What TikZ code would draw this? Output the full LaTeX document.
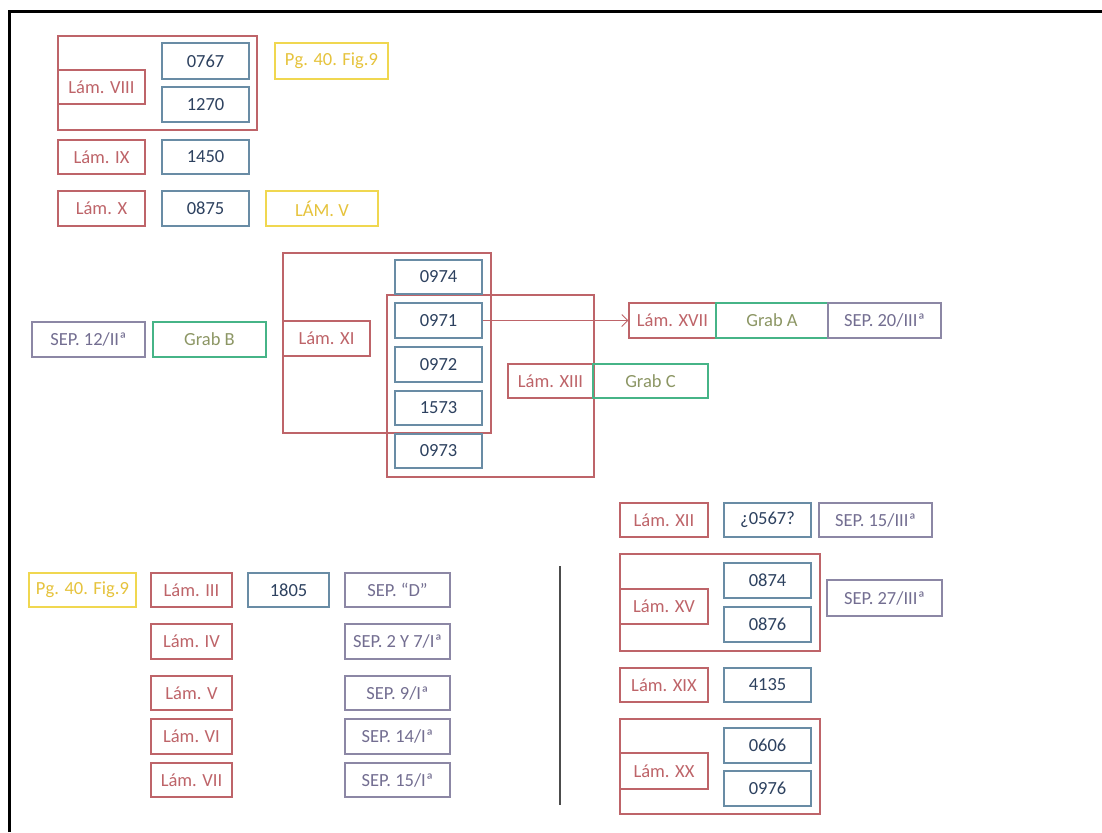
\documentclass[tikz,border=0pt]{standalone}
\usepackage{fontspec}
\setmainfont{Carlito}
\usetikzlibrary{arrows.meta}
\definecolor{lamc}{RGB}{190,100,105}
\definecolor{lamt}{RGB}{190,100,105}
\definecolor{numc}{RGB}{105,140,165}
\definecolor{numt}{RGB}{45,65,95}
\definecolor{yelc}{RGB}{240,215,80}
\definecolor{yelt}{RGB}{230,195,60}
\definecolor{grbc}{RGB}{70,180,135}
\definecolor{grbt}{RGB}{140,150,100}
\definecolor{sepc}{RGB}{140,135,165}
\definecolor{sept}{RGB}{115,110,145}
\tikzset{
  base/.style={draw, line width=1.1pt, inner sep=0pt, font=\fontsize{18.5}{20}\selectfont},
  lam/.style={base, draw=lamc, text=lamt},
  num/.style={base, draw=numc, text=numt},
  yel/.style={base, draw=yelc, text=yelt},
  grb/.style={base, draw=grbc, text=grbt},
  sep/.style={base, draw=sepc, text=sept},
  grp/.style={draw=lamc, line width=1.1pt},
  frame/.style={draw=black, line width=3pt},
  divider/.style={draw=black!70, line width=1.5pt},
  link/.style={draw=lamc, line width=1pt, -{Straight Barb[length=6pt,width=12pt,line width=1pt]}}
}
\newcommand\bx[7]{\node[#6, minimum width={(#4-#2)*1pt}, minimum height={(#5-#3)*1pt}] (#1) at ({(#2+#4)/2},{(#3+#5)/2}) {#7};}
\newcommand\grpbox[5]{\draw[grp] (#2,#3) rectangle (#4,#5) coordinate (#1);}
\begin{document}
\begin{tikzpicture}[x=1pt,y=-1pt]
\useasboundingbox (0,0) rectangle (1102,832);
\fill[white] (0,0) rectangle (1102,832);
% frame
\coordinate (fa) at (9,832);
\coordinate (fb) at (9,12);
\coordinate (fc) at (1102,12);
\draw[frame] (fa) -- (fb) -- (fc);
% groups
\grpbox{g8}{58}{36}{257}{130}
\grpbox{g11}{283}{253}{491}{433}
\grpbox{g13}{387}{295}{594}{477}
\grpbox{g15}{620}{554}{820}{651}
\grpbox{g20}{620}{719}{820}{814}
% top left
\bx{l8}{58}{70}{145}{104}{lam}{Lám. VIII}
\bx{n0767}{162}{43}{249}{79}{num}{0767}
\bx{n1270}{162}{87}{249}{122}{num}{1270}
\bx{pg1}{275}{43}{388}{79}{yel}{Pg. 40. Fig.9}
\bx{l9}{58}{140}{145}{174}{lam}{Lám. IX}
\bx{n1450}{162}{140}{249}{174}{num}{1450}
\bx{l10}{58}{191}{145}{226}{lam}{Lám. X}
\bx{n0875}{162}{191}{249}{226}{num}{0875}
\bx{lamv}{266}{191}{378}{226}{yel}{LÁM. V}
% middle
\bx{s12}{32}{322}{145}{357}{sep}{SEP. 12/IIª}
\bx{gb}{153}{322}{266}{357}{grb}{Grab B}
\bx{l11}{283}{321}{370}{356}{lam}{Lám. XI}
\bx{n0974}{395}{260}{482}{294}{num}{0974}
\bx{n0971}{395}{303}{482}{338}{num}{0971}
\bx{n0972}{395}{347}{482}{382}{num}{0972}
\bx{n1573}{395}{391}{482}{425}{num}{1573}
\bx{n0973}{395}{434}{482}{468}{num}{0973}
\bx{l13}{508}{364}{593}{398}{lam}{Lám. XIII}
\bx{gc}{593}{364}{708}{398}{grb}{Grab C}
\bx{l17}{629}{303}{716}{338}{lam}{Lám. XVII}
\bx{ga}{716}{303}{828}{338}{grb}{Grab A}
\bx{s20}{828}{303}{941}{338}{sep}{SEP. 20/IIIª}
\draw[link] (n0971.east) -- (l17.west);
% bottom left
\bx{pg2}{29}{573}{136}{607}{yel}{Pg. 40. Fig.9}
\bx{l3}{151}{573}{232}{607}{lam}{Lám. III}
\bx{n1805}{248}{573}{329}{607}{num}{1805}
\bx{sd}{345}{573}{450}{607}{sep}{SEP. “D”}
\bx{l4}{151}{624}{232}{659}{lam}{Lám. IV}
\bx{s27}{345}{624}{450}{659}{sep}{SEP. 2 Y 7/Iª}
\bx{l5}{151}{676}{232}{710}{lam}{Lám. V}
\bx{s9}{345}{676}{450}{710}{sep}{SEP. 9/Iª}
\bx{l6}{151}{719}{232}{754}{lam}{Lám. VI}
\bx{s14}{345}{719}{450}{754}{sep}{SEP. 14/Iª}
\bx{l7}{151}{763}{232}{797}{lam}{Lám. VII}
\bx{s15}{345}{763}{450}{797}{sep}{SEP. 15/Iª}
% divider
\coordinate (da) at (560,566);
\coordinate (db) at (560,805);
\draw[divider] (da) -- (db);
% bottom right
\bx{l12}{620}{503}{708}{537}{lam}{Lám. XII}
\bx{n0567}{724}{503}{811}{537}{num}{¿0567?}
\bx{s153}{819}{503}{932}{537}{sep}{SEP. 15/IIIª}
\bx{l15}{620}{589}{708}{624}{lam}{Lám. XV}
\bx{n0874}{724}{563}{811}{598}{num}{0874}
\bx{n0876}{724}{607}{811}{642}{num}{0876}
\bx{s273}{827}{580}{942}{616}{sep}{SEP. 27/IIIª}
\bx{l19}{620}{668}{708}{702}{lam}{Lám. XIX}
\bx{n4135}{724}{668}{811}{702}{num}{4135}
\bx{l20}{620}{753}{708}{789}{lam}{Lám. XX}
\bx{n0606}{724}{728}{811}{763}{num}{0606}
\bx{n0976}{724}{771}{811}{806}{num}{0976}
\end{tikzpicture}
\end{document}
